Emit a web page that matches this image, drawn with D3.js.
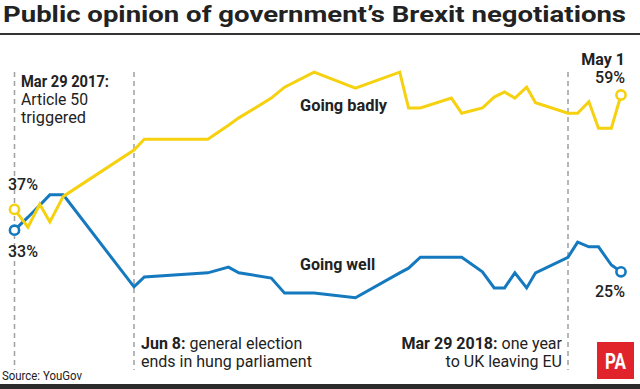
<!DOCTYPE html>
<html>
<head>
<meta charset="utf-8">
<script src="https://cdn.jsdelivr.net/npm/d3@7"></script>
<style>
  html, body { margin: 0; padding: 0; background: #fff; }
  svg { display: block; }
  text { font-family: Roboto, "Noto Sans", "DejaVu Sans", sans-serif; fill: #222; }
</style>
</head>
<body>
<svg id="chart" width="640" height="389"></svg>
<script>
// ---- Data ----
const dates = [
  "2017-03-29","2017-04-06","2017-04-13","2017-04-19","2017-04-27",
  "2017-06-08","2017-06-15","2017-07-28","2017-08-11","2017-08-18",
  "2017-09-09","2017-09-18","2017-10-08","2017-11-05","2017-12-05",
  "2017-12-11","2017-12-19","2018-01-09","2018-01-16","2018-01-30",
  "2018-02-07","2018-02-14","2018-02-21","2018-03-01","2018-03-07",
  "2018-03-29","2018-04-04","2018-04-11","2018-04-17","2018-04-25",
  "2018-05-01"
];
const goingBadly = [
  37, 33.6, 38.0, 34.6, 39.5,
  48.4, 50.5, 50.5, 53.2, 54.6,
  58.4, 60.5, 63.4, 60.3, 63.4,
  56.5, 56.5, 58.4, 55.5, 56.5,
  58.6, 59.6, 58.4, 60.5, 57.5,
  55.5, 55.5, 57.7, 52.6, 52.6,
  59
];
const goingWell = [
  33, 35.5, 37.8, 39.8, 39.8,
  22.1, 24.0, 24.8, 25.9, 24.8,
  23.8, 20.9, 20.9, 20.0, 24.8,
  25.7, 27.8, 27.8, 27.8, 25.0,
  21.9, 21.9, 24.8, 21.9, 24.8,
  27.8, 30.7, 29.8, 29.8, 26.3,
  25
];
const seriesNames = ["Going badly", "Going well"];
const eventDates = ["2017-03-29", "2017-06-08", "2018-03-29"];
const eventBold = ["Mar 29 2017:", "Jun 8:", "Mar 29 2018:"];
const eventText = [["Article 50", "triggered"], ["general election", "ends in hung parliament"], ["one year", "to UK leaving EU"]];
const axisBreakDates = ["2017-03-29", "2017-06-08", "2018-03-29", "2018-05-01"];
const titleText = "Public opinion of government\u2019s Brexit negotiations";
const sourceText = "Source: YouGov";

// ---- Setup ----
const parse = d3.timeParse("%Y-%m-%d");
const svg = d3.select("#chart");
const YELLOW = "#f6d10f", BLUE = "#1479bf", INK = "#222";

const x = d3.scaleTime()
  .domain(axisBreakDates.map(parse))
  .range([14.5, 134, 568, 621]);
const y = d3.scaleLinear().domain([20, 65]).range([297.8, 63.8]);

const badly = dates.map((d, i) => ({ date: parse(d), v: goingBadly[i] }));
const well  = dates.map((d, i) => ({ date: parse(d), v: goingWell[i] }));

function fit(sel, w) {
  sel.each(function () {
    const len = this.getComputedTextLength();
    if (Math.abs(len - w) > 1) {
      d3.select(this).attr("textLength", w).attr("lengthAdjust", "spacingAndGlyphs");
    }
  });
  return sel;
}

// Title
svg.append("text").attr("x", 3).attr("y", 22)
  .attr("font-size", 22).attr("font-weight", 700).attr("fill", INK)
  .text(titleText).call(fit, 623);
svg.append("line").attr("x1", 0).attr("x2", 640).attr("y1", 34).attr("y2", 34)
  .attr("stroke", "#333").attr("stroke-width", 2);

// Event dashed lines
svg.append("g").selectAll("line").data(eventDates).join("line")
  .attr("x1", d => x(parse(d))).attr("x2", d => x(parse(d)))
  .attr("y1", 72).attr("y2", 370)
  .attr("stroke", "#a0a0a0").attr("stroke-width", 1.5)
  .attr("stroke-dasharray", "5,4");

// Lines
const line = d3.line().x(d => x(d.date)).y(d => y(d.v));
svg.append("path").datum(well).attr("d", line)
  .attr("fill", "none").attr("stroke", BLUE).attr("stroke-width", 3);
svg.append("path").datum(badly).attr("d", line)
  .attr("fill", "none").attr("stroke", YELLOW).attr("stroke-width", 3);

// End circles
const ends = [
  [badly[0], YELLOW], [well[0], BLUE],
  [badly[badly.length - 1], YELLOW], [well[well.length - 1], BLUE]
];
svg.append("g").selectAll("circle").data(ends).join("circle")
  .attr("cx", d => x(d[0].date)).attr("cy", d => y(d[0].v)).attr("r", 4.6)
  .attr("fill", "#fff").attr("stroke", d => d[1]).attr("stroke-width", 2.6);

// Value labels
const fmt = v => Math.round(v) + "%";
svg.append("text").attr("x", 23).attr("y", 190).attr("text-anchor", "middle")
  .attr("font-size", 16).attr("font-weight", 500).text(fmt(goingBadly[0]));
svg.append("text").attr("x", 23).attr("y", 257).attr("text-anchor", "middle")
  .attr("font-size", 16).attr("font-weight", 500).text(fmt(goingWell[0]));
svg.append("text").attr("x", 625).attr("y", 65).attr("text-anchor", "end")
  .attr("font-size", 16).attr("font-weight", 700).text("May 1");
svg.append("text").attr("x", 625).attr("y", 83).attr("text-anchor", "end")
  .attr("font-size", 16).attr("font-weight", 500).text(fmt(goingBadly[goingBadly.length - 1]));
svg.append("text").attr("x", 610).attr("y", 297).attr("text-anchor", "middle")
  .attr("font-size", 16).attr("font-weight", 500).text(fmt(goingWell[goingWell.length - 1]));

// Series labels
svg.append("text").attr("x", 300).attr("y", 111).attr("font-size", 16).attr("font-weight", 700)
  .text(seriesNames[0]).call(fit, 87);
svg.append("text").attr("x", 300).attr("y", 270).attr("font-size", 16).attr("font-weight", 700)
  .text(seriesNames[1]).call(fit, 76);

// Event annotations
// Mar 29 2017 (top-left, stacked)
const a0 = svg.append("g").attr("font-size", 16);
a0.append("text").attr("x", 21).attr("y", 87).attr("font-weight", 700).text(eventBold[0]).call(fit, 88);
a0.append("text").attr("x", 21).attr("y", 105).text(eventText[0][0]).call(fit, 67);
a0.append("text").attr("x", 21).attr("y", 123).text(eventText[0][1]).call(fit, 65);

// Jun 8 (bottom, left-aligned)
const a1 = svg.append("g").attr("font-size", 16);
const t1 = a1.append("text").attr("x", x(parse(eventDates[1])) + 7).attr("y", 349);
t1.append("tspan").attr("font-weight", 700).text(eventBold[1] + " ");
t1.append("tspan").text(eventText[1][0]);
a1.append("text").attr("x", x(parse(eventDates[1])) + 7).attr("y", 367).text(eventText[1][1]);

// Mar 29 2018 (bottom, right-aligned)
const a2 = svg.append("g").attr("font-size", 16).attr("text-anchor", "end");
const t2 = a2.append("text").attr("x", x(parse(eventDates[2])) - 6).attr("y", 349);
t2.append("tspan").attr("font-weight", 700).text(eventBold[2] + " ");
t2.append("tspan").text(eventText[2][0]);
a2.append("text").attr("x", x(parse(eventDates[2])) - 6).attr("y", 367).text(eventText[2][1]);

// Source
svg.append("text").attr("x", 2).attr("y", 380).attr("font-size", 12).attr("fill", "#333")
  .text(sourceText).call(fit, 80);

// PA logo
svg.append("rect").attr("x", 597).attr("y", 342).attr("width", 37).attr("height", 37).attr("fill", "#e1242b");
svg.append("text").attr("x", 615.5).attr("y", 369).attr("text-anchor", "middle")
  .attr("font-size", 22).attr("font-weight", 700).style("fill", "#fff").text("PA").call(fit, 21);

// Bottom bar
svg.append("rect").attr("x", 0).attr("y", 384).attr("width", 640).attr("height", 5).attr("fill", "#2b2b2b");
</script>
</body>
</html>
